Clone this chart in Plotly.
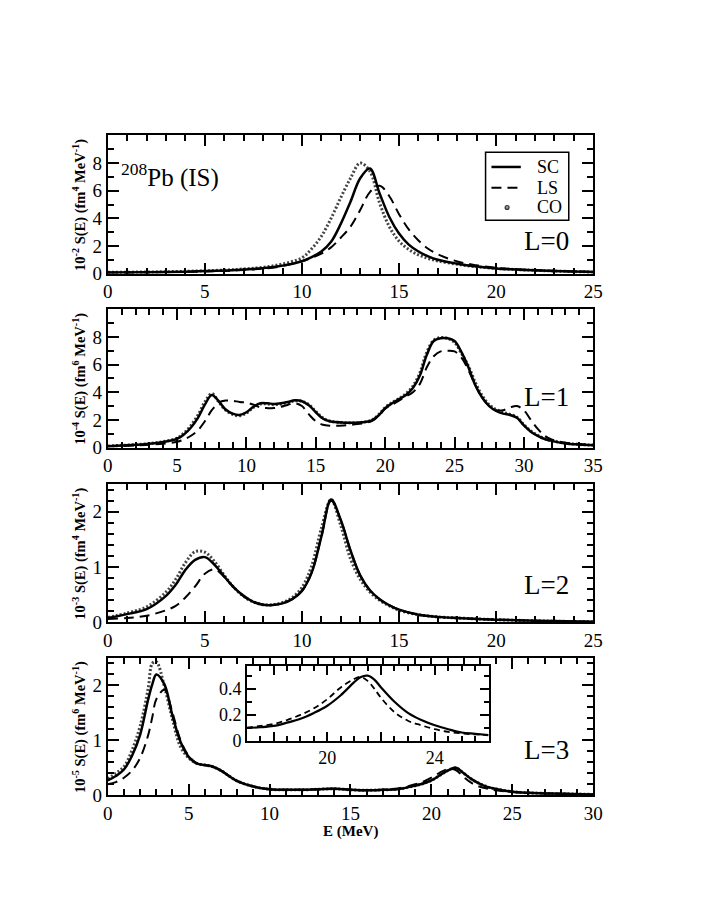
import plotly.graph_objects as go

# ---- L=0 panel ----
e0 = [0, 2, 4, 6, 7, 8, 9, 10, 10.5, 11, 11.5, 12, 12.5, 13, 13.5, 14, 14.5, 15, 15.5, 16,
      16.5, 17, 18, 19, 20, 21, 22, 23, 24, 25]
sc0 = [0.08, 0.10, 0.14, 0.22, 0.30, 0.40, 0.58, 0.90, 1.20, 1.60, 2.30, 3.60, 5.20, 6.90, 7.60, 5.80,
       4.10, 2.90, 2.10, 1.60, 1.25, 1.00, 0.72, 0.52, 0.38, 0.30, 0.24, 0.19, 0.15, 0.12]
ls0 = [0.08, 0.10, 0.13, 0.20, 0.27, 0.36, 0.55, 0.90, 1.15, 1.45, 1.90, 2.60, 3.40, 4.60, 5.90, 6.35,
       5.60, 4.30, 3.20, 2.40, 1.80, 1.40, 0.88, 0.60, 0.42, 0.32, 0.25, 0.20, 0.16, 0.13]
co0 = [0.10, 0.12, 0.17, 0.26, 0.34, 0.46, 0.70, 1.15, 1.80, 2.70, 4.00, 5.50, 6.90, 8.00, 7.40, 5.10,
       3.40, 2.35, 1.75, 1.35, 1.10, 0.92, 0.68, 0.50, 0.38, 0.30, 0.24, 0.19, 0.15, 0.12]

# ---- L=1 panel ----
e1 = [0, 1, 2, 3, 4, 5, 5.5, 6, 6.5, 7, 7.5, 8, 8.5, 9, 9.5, 10, 10.5, 11, 11.5, 12, 12.5, 13, 13.5,
      14, 14.5, 15, 15.5, 16, 17, 18, 19, 19.5, 20, 20.5, 21, 21.5, 22, 22.5, 23, 23.5, 24, 24.5, 25,
      25.5, 26, 26.5, 27, 27.5, 28, 28.5, 29, 29.5, 30, 30.5, 31, 31.5, 32, 33, 34, 35]
sc1 = [0.10, 0.15, 0.20, 0.27, 0.40, 0.62, 0.95, 1.45, 2.15, 3.10, 3.80, 3.35, 2.75, 2.45, 2.35, 2.55,
       2.95, 3.20, 3.20, 3.15, 3.20, 3.30, 3.42, 3.35, 3.05, 2.55, 2.10, 1.90, 1.80, 1.80, 1.95, 2.30,
       2.85, 3.20, 3.50, 3.80, 4.30, 5.20, 6.70, 7.70, 7.90, 7.90, 7.70, 6.90, 5.80, 4.50, 3.60, 3.00,
       2.65, 2.45, 2.35, 2.15, 1.60, 1.15, 0.85, 0.62, 0.48, 0.30, 0.22, 0.17]
ls1 = [0.08, 0.11, 0.15, 0.20, 0.28, 0.42, 0.58, 0.85, 1.25, 1.90, 2.70, 3.25, 3.40, 3.38, 3.30, 3.25,
       3.10, 2.90, 2.85, 2.85, 2.95, 3.10, 3.20, 3.00, 2.40, 1.90, 1.65, 1.58, 1.60, 1.70, 1.90, 2.25,
       2.80, 3.10, 3.40, 3.70, 4.00, 4.60, 5.80, 6.60, 6.95, 7.00, 6.95, 6.50, 5.60, 4.50, 3.60, 3.00,
       2.70, 2.70, 2.90, 3.00, 2.70, 2.00, 1.35, 0.85, 0.58, 0.35, 0.25, 0.20]
co1 = [0.11, 0.16, 0.21, 0.29, 0.43, 0.68, 1.05, 1.60, 2.35, 3.30, 3.90, 3.30, 2.70, 2.40, 2.30, 2.50,
       2.90, 3.15, 3.15, 3.10, 3.15, 3.25, 3.38, 3.35, 3.10, 2.60, 2.15, 1.92, 1.80, 1.80, 1.97, 2.35,
       2.90, 3.25, 3.55, 3.90, 4.45, 5.40, 6.90, 7.75, 7.95, 7.90, 7.60, 6.80, 5.90, 4.70, 3.75, 3.10,
       2.75, 2.55, 2.40, 2.20, 1.65, 1.20, 0.88, 0.64, 0.50, 0.31, 0.22, 0.17]

# ---- L=2 panel ----
e2 = [0, 1, 2, 3, 3.5, 4, 4.5, 5, 5.5, 6, 6.5, 7, 7.5, 8, 8.5, 9, 9.5, 10, 10.5, 11, 11.5, 12, 12.5,
      13, 13.5, 14, 14.5, 15, 16, 17, 18, 20, 22, 25]
sc2 = [0.08, 0.15, 0.24, 0.48, 0.68, 0.95, 1.13, 1.18, 1.04, 0.83, 0.63, 0.48, 0.37, 0.32, 0.315,
       0.345, 0.42, 0.57, 0.90, 1.55, 2.22, 1.85, 1.30, 0.85, 0.58, 0.42, 0.31, 0.23, 0.14, 0.10, 0.08,
       0.05, 0.03, 0.01]
ls2 = [0.06, 0.08, 0.12, 0.22, 0.30, 0.45, 0.65, 0.88, 0.96, 0.82, 0.63, 0.47, 0.37, 0.32, 0.315,
       0.345, 0.42, 0.57, 0.90, 1.55, 2.20, 1.85, 1.30, 0.85, 0.58, 0.42, 0.31, 0.23, 0.14, 0.10, 0.08,
       0.05, 0.03, 0.01]
co2 = [0.09, 0.17, 0.28, 0.55, 0.78, 1.08, 1.28, 1.27, 1.10, 0.85, 0.63, 0.47, 0.37, 0.32, 0.32,
       0.36, 0.45, 0.63, 1.02, 1.70, 2.22, 1.75, 1.15, 0.78, 0.55, 0.40, 0.30, 0.22, 0.14, 0.10, 0.08,
       0.05, 0.03, 0.01]

# ---- L=3 panel ----
e3 = [0, 0.5, 1, 1.5, 2, 2.5, 2.75, 3, 3.5, 4, 4.5, 5, 5.5, 6, 6.5, 7, 7.5, 8, 9, 10, 11, 12, 13, 14,
      15, 16, 17, 18, 19, 19.5, 20, 20.5, 21, 21.5, 22, 22.5, 23, 23.5, 24, 25, 26, 27, 28, 30]
sc3 = [0.27, 0.35, 0.47, 0.72, 1.10, 1.75, 2.02, 2.20, 2.02, 1.45, 0.97, 0.70, 0.58, 0.55, 0.52, 0.45,
       0.35, 0.26, 0.16, 0.11, 0.10, 0.10, 0.11, 0.12, 0.10, 0.09, 0.10, 0.115, 0.175, 0.215, 0.27,
       0.36, 0.45, 0.50, 0.40, 0.29, 0.21, 0.15, 0.115, 0.065, 0.045, 0.035, 0.03, 0.015]
ls3 = [0.20, 0.24, 0.32, 0.45, 0.68, 1.10, 1.42, 1.75, 1.92, 1.50, 1.00, 0.72, 0.58, 0.55, 0.52, 0.45,
       0.35, 0.26, 0.16, 0.11, 0.10, 0.10, 0.11, 0.12, 0.10, 0.09, 0.10, 0.13, 0.20, 0.25, 0.32,
       0.41, 0.475, 0.46, 0.33, 0.22, 0.155, 0.12, 0.09, 0.058, 0.045, 0.035, 0.03, 0.015]
co3 = [0.30, 0.40, 0.52, 0.82, 1.26, 1.95, 2.40, 2.43, 1.98, 1.38, 0.88, 0.68, 0.58, 0.55, 0.52, 0.45,
       0.35, 0.26, 0.16, 0.11, 0.10, 0.10, 0.11, 0.12, 0.10, 0.09, 0.10, 0.115, 0.175, 0.215, 0.27,
       0.36, 0.45, 0.50, 0.40, 0.29, 0.21, 0.15, 0.115, 0.065, 0.045, 0.035, 0.03, 0.015]

# ---- L=3 inset ----
e_in = [17, 17.5, 18, 18.5, 19, 19.5, 20, 20.5, 21, 21.25, 21.5, 21.75, 22, 22.5, 23, 23.5, 24, 24.5,
        25, 25.5, 26]
sc_in = [0.10, 0.105, 0.115, 0.14, 0.17, 0.215, 0.27, 0.35, 0.45, 0.49, 0.50, 0.47, 0.41, 0.30, 0.215,
         0.16, 0.12, 0.09, 0.065, 0.055, 0.045]
ls_in = [0.10, 0.115, 0.13, 0.16, 0.20, 0.25, 0.32, 0.41, 0.475, 0.49, 0.46, 0.40, 0.33, 0.22, 0.155,
         0.12, 0.09, 0.07, 0.058, 0.05, 0.045]

ytitles = ["10<sup>-2</sup> S(E) (fm<sup>4</sup> MeV<sup>-1</sup>)",
           "10<sup>-4</sup> S(E) (fm<sup>6</sup> MeV<sup>-1</sup>)",
           "10<sup>-3</sup> S(E) (fm<sup>4</sup> MeV<sup>-1</sup>)",
           "10<sup>-5</sup> S(E) (fm<sup>6</sup> MeV<sup>-1</sup>)"]
labels = ["L=0", "L=1", "L=2", "L=3"]
legend_names = ["SC", "LS", "CO"]

W, H = 706, 913
FONT = "Liberation Serif"

# panel boxes in pixels: (top, bottom)
boxes = [(137, 277), (313, 453), (490, 630), (666, 805)]
x_left, x_right = 105, 601
xmax = [25, 35, 25, 30]
ymax = [10, 10, 2.5, 2.5]
ymaj = [[0, 2, 4, 6, 8], [0, 2, 4, 6, 8], [0, 1, 2], [0, 1, 2]]
ymin_dt = [1, 1, 0.2, 0.2]

CO_LINE = dict(color="#444", width=3, dash="2px,2px", shape="spline")
LS_LINE = dict(color="black", width=2, dash="10px,6px", shape="spline")
SC_LINE = dict(color="black", width=2.5, shape="spline")

fig = go.Figure()

panels = [(e0, sc0, ls0, co0), (e1, sc1, ls1, co1), (e2, sc2, ls2, co2), (e3, sc3, ls3, co3)]
for i, (e, sc, ls, co) in enumerate(panels):
    xa = "x" if i == 0 else "x%d" % (i + 1)
    ya = "y" if i == 0 else "y%d" % (i + 1)
    fig.add_trace(go.Scatter(x=e, y=co, mode="lines", line=CO_LINE, xaxis=xa, yaxis=ya, name="CO"))
    fig.add_trace(go.Scatter(x=e, y=ls, mode="lines", line=LS_LINE, xaxis=xa, yaxis=ya, name="LS"))
    fig.add_trace(go.Scatter(x=e, y=sc, mode="lines", line=SC_LINE, xaxis=xa, yaxis=ya, name="SC"))

# inset
fig.add_trace(go.Scatter(x=e_in, y=ls_in, mode="lines", line=dict(color="black", width=1.8, dash="6px,4px", shape="spline"),
                         xaxis="x5", yaxis="y5", name="LS"))
fig.add_trace(go.Scatter(x=e_in, y=sc_in, mode="lines", line=dict(color="black", width=2.2, shape="spline"),
                         xaxis="x5", yaxis="y5", name="SC"))


def ax_style(size=19):
    return dict(showline=True, linecolor="black", linewidth=2, mirror="ticks", ticks="inside",
                ticklen=11, tickwidth=1.5, tickcolor="black", showgrid=False, zeroline=False,
                tickfont=dict(family=FONT, size=size, color="black"),
                minor=dict(ticks="inside", ticklen=6, tickwidth=1.5, tickcolor="black", showgrid=False))


layout = dict(width=W, height=H, margin=dict(l=0, r=0, t=0, b=0), plot_bgcolor="white",
              paper_bgcolor="white", font=dict(family=FONT, color="black"), showlegend=False)
annotations = []
for i in range(4):
    top, bot = boxes[i]
    xs = "xaxis" if i == 0 else "xaxis%d" % (i + 1)
    ys = "yaxis" if i == 0 else "yaxis%d" % (i + 1)
    xa = ax_style()
    xa.update(domain=[x_left / W, x_right / W], range=[0, xmax[i]], dtick=5, tick0=0,
              anchor="y" if i == 0 else "y%d" % (i + 1))
    xa["minor"].update(dtick=1, tick0=0)
    ya = ax_style()
    ya.update(domain=[1 - bot / H, 1 - top / H], range=[0, ymax[i]], tickvals=ymaj[i],
              anchor="x" if i == 0 else "x%d" % (i + 1))
    ya["minor"].update(dtick=ymin_dt[i], tick0=0)
    layout[xs] = xa
    layout[ys] = ya
    annotations.append(dict(text="<b>" + ytitles[i] + "</b>", x=76 / W, y=1 - (top + bot) / 2 / H,
                            xref="paper", yref="paper", xanchor="center", yanchor="middle",
                            textangle=-90, showarrow=False,
                            font=dict(family=FONT, size=14.5, color="black")))

label_y = [244, 402, 592, 759]
for i in range(4):
    annotations.append(dict(text=labels[i], x=578 / W, y=1 - label_y[i] / H, xref="paper", yref="paper",
                            xanchor="right", yanchor="middle", showarrow=False,
                            font=dict(family=FONT, size=27, color="black")))

annotations.append(dict(text="<sup>208</sup>Pb (IS)", x=116 / W, y=1 - 178 / H, xref="paper", yref="paper",
                        xanchor="left", yanchor="middle", showarrow=False,
                        font=dict(family=FONT, size=25, color="black")))
annotations.append(dict(text="<b>E (MeV)</b>", x=353 / W, y=1 - 842 / H, xref="paper", yref="paper",
                        xanchor="center", yanchor="middle",
                        showarrow=False, font=dict(family=FONT, size=15, color="black")))

# legend box drawn by hand (xmgrace style: tight rows)
leg_rows = [169, 190, 210]
shapes = [dict(type="rect", xref="paper", yref="paper", x0=491 / W, x1=576 / W, y0=1 - 223 / H, y1=1 - 154 / H,
               line=dict(color="black", width=1.5), fillcolor="white", layer="above")]
shapes.append(dict(type="line", xref="paper", yref="paper", x0=497 / W, x1=527 / W,
                   y0=1 - leg_rows[0] / H, y1=1 - leg_rows[0] / H, line=dict(color="black", width=2.5), layer="above"))
shapes.append(dict(type="line", xref="paper", yref="paper", x0=497 / W, x1=528 / W,
                   y0=1 - leg_rows[1] / H, y1=1 - leg_rows[1] / H, line=dict(color="black", width=2, dash="10px,6px"),
                   layer="above"))
shapes.append(dict(type="circle", xref="paper", yref="paper", x0=511 / W, x1=515 / W,
                   y0=1 - (leg_rows[2] + 2) / H, y1=1 - (leg_rows[2] - 2) / H,
                   line=dict(color="#333", width=1.2), fillcolor="#999", layer="above"))
for name, row in zip(legend_names, leg_rows):
    annotations.append(dict(text=name, x=541 / W, y=1 - row / H, xref="paper", yref="paper",
                            xanchor="left", yanchor="middle", showarrow=False,
                            font=dict(family=FONT, size=18, color="black")))

# inset axes
xi = ax_style(18)
xi.update(domain=[247 / W, 494 / W], range=[17, 26], tickvals=[18, 20, 22, 24, 26],
          ticktext=["", "20", "", "24", ""], anchor="y5", ticklen=9, linewidth=1.5)
xi["minor"].update(dtick=0.5, tick0=17, ticklen=5)
yi = ax_style(18)
yi.update(domain=[1 - 750 / H, 1 - 674 / H], range=[0, 0.575], tickvals=[0, 0.2, 0.4],
          ticktext=["0", "0.2", "0.4"], anchor="x5", ticklen=9, linewidth=1.5)
yi["minor"].update(dtick=0.1, tick0=0, ticklen=5)
layout["xaxis5"] = xi
layout["yaxis5"] = yi

layout["annotations"] = annotations
layout["shapes"] = shapes
fig.update_layout(**layout)

fig.write_html("out.html", config={"displayModeBar": False},
               post_script="document.body.style.margin='0';document.body.style.overflow='hidden';")
